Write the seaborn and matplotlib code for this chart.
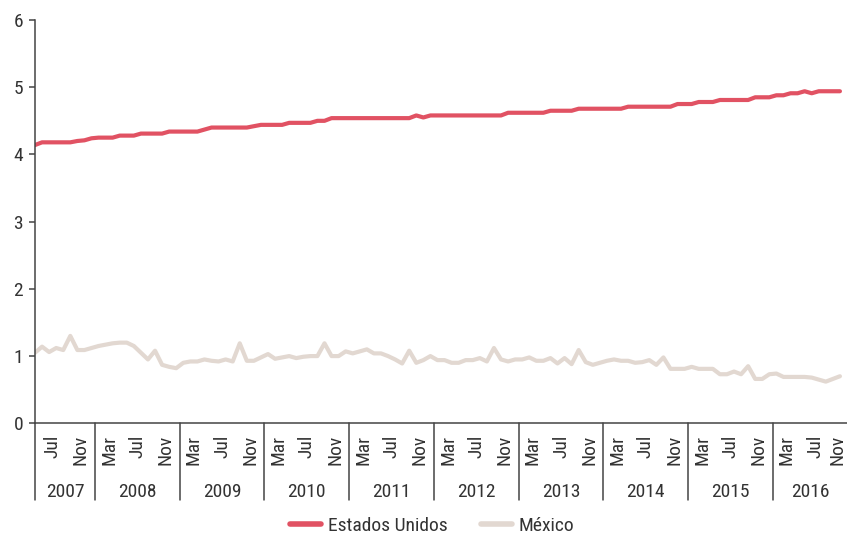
import numpy as np
import pandas as pd
import matplotlib
matplotlib.use("Agg")
import matplotlib.pyplot as plt
import matplotlib.transforms as mtransforms
from matplotlib import font_manager
import seaborn as sns

# Serie mensual, abril 2007 - octubre 2016
anio_inicio, mes_inicio = 2007, 4
anios = list(range(2007, 2017))
etiquetas_mes = ["Mar", "Jul", "Nov"]

estados_unidos = (
    [4.14] + [4.18] * 5 + [4.20, 4.21, 4.24] + [4.25] * 3 + [4.28] * 3
    + [4.31] * 4 + [4.34] * 5 + [4.37] + [4.40] * 6 + [4.42] + [4.44] * 4
    + [4.47] * 4 + [4.50] * 2 + [4.54] * 12 + [4.58, 4.55] + [4.58] * 11
    + [4.62] * 6 + [4.65] * 4 + [4.68] * 7 + [4.71] * 7 + [4.75] * 3
    + [4.78] * 3 + [4.81] * 5 + [4.85] * 3 + [4.88] * 2 + [4.91] * 2
    + [4.94, 4.91] + [4.94] * 4
)

mexico = [
    1.05, 1.14, 1.06, 1.12, 1.09, 1.30, 1.09, 1.09, 1.12, 1.15,
    1.17, 1.19, 1.20, 1.20, 1.15, 1.05, 0.95, 1.08, 0.87, 0.84,
    0.82, 0.90, 0.92, 0.92, 0.95, 0.93, 0.92, 0.95, 0.92, 1.19,
    0.93, 0.93, 0.98, 1.03, 0.96, 0.98, 1.00, 0.97, 0.99, 1.00,
    1.00, 1.19, 1.00, 1.00, 1.07, 1.04, 1.07, 1.10, 1.04, 1.04,
    1.00, 0.95, 0.89, 1.08, 0.90, 0.94, 1.00, 0.94, 0.94, 0.90,
    0.90, 0.94, 0.94, 0.97, 0.92, 1.12, 0.95, 0.92, 0.95, 0.95,
    0.98, 0.93, 0.93, 0.97, 0.89, 0.97, 0.88, 1.09, 0.91, 0.87,
    0.90, 0.93, 0.95, 0.93, 0.93, 0.90, 0.91, 0.94, 0.87, 0.98,
    0.81, 0.81, 0.81, 0.84, 0.81, 0.81, 0.81, 0.73, 0.73, 0.77,
    0.73, 0.85, 0.66, 0.66, 0.73, 0.74, 0.69, 0.69, 0.69, 0.69,
    0.68, 0.65, 0.62, 0.66, 0.70,
]

n = len(mexico)
df = pd.DataFrame({
    "mes": list(range(n)) * 2,
    "valor": estados_unidos + mexico,
    "pais": ["Estados Unidos"] * n + ["México"] * n,
})

sns.set_style("white")

# fuente condensada si existe, si no la normal un poco mas chica
fuentes = font_manager.fontManager.ttflist
nombres = {f.name for f in fuentes}
stretch_kw = {}
if "Liberation Sans Narrow" in nombres:
    familia, tam = "Liberation Sans Narrow", 14.5
elif "Roboto Condensed" in nombres:
    familia, tam = "Roboto Condensed", 14
elif any(f.name == "DejaVu Sans" and f.stretch == "condensed" for f in fuentes):
    familia, tam = "DejaVu Sans", 13
    plt.rcParams["font.stretch"] = "condensed"
else:
    familia, tam = "Liberation Sans", 13
plt.rcParams["font.family"] = [familia, "DejaVu Sans"]

gris = "#333333"
colores = {"Estados Unidos": "#E15263", "México": "#E2D8D1"}

fig = plt.figure(figsize=(8.47, 5.36), dpi=100)
ax = fig.add_axes([35 / 847, 112.7 / 536, 812 / 847, 403.3 / 536])

sns.lineplot(data=df, x="mes", y="valor", hue="pais", palette=colores,
             linewidth=3, ax=ax)

ax.set_xlim(0, 115)
ax.set_ylim(0, 6)
ax.set_xlabel("")
ax.set_ylabel("")
sns.despine(ax=ax)
for s in ["left", "bottom"]:
    ax.spines[s].set_color("#444444")
    ax.spines[s].set_linewidth(1.1)

ax.set_yticks(range(0, 7))
ax.tick_params(axis="y", direction="out", length=4.5, width=1.1, color="#444444",
               labelsize=tam, labelcolor=gris, pad=4, left=True)

# posiciones: indice del mes respecto a abril 2007
def idx(anio, mes):
    return (anio - anio_inicio) * 12 + (mes - mes_inicio)

num_mes = {"Mar": 3, "Jul": 7, "Nov": 11}
pos_lab, txt_lab = [], []
for a in anios:
    for m in etiquetas_mes:
        p = idx(a, num_mes[m]) - 0.5
        if 0 <= p <= 115:
            pos_lab.append(min(p, 113.6))
            txt_lab.append(m)
ax.set_xticks(pos_lab)
ax.set_xticklabels(txt_lab, rotation=90, va="top")
ax.tick_params(axis="x", length=0, labelsize=tam, labelcolor=gris, pad=8.5, bottom=True)

limites = [idx(a, 5) - 0.5 for a in anios] + [idx(a, 9) - 0.5 for a in anios]
limites = [p for p in limites if 0 < p < 115]
ax.set_xticks(limites, minor=True)
ax.tick_params(axis="x", which="minor", direction="out", length=5, width=1.1,
               color="#444444")

trans = mtransforms.blended_transform_factory(ax.transData, ax.transAxes)
separadores = [0] + [idx(a, 1) - 0.5 for a in anios[1:]]
for p in separadores:
    ax.plot([p, p], [0, -0.191], transform=trans, color="#444444", lw=1.1,
            clip_on=False)
bordes = separadores + [115]
for a, x0, x1 in zip(anios, bordes[:-1], bordes[1:]):
    ax.text((x0 + x1) / 2, -0.171, str(a), transform=trans, ha="center",
            va="center", fontsize=tam, color=gris)

handles, labels = ax.get_legend_handles_labels()
ax.get_legend().remove()
for h in handles:
    h.set_linewidth(4)
fig.legend(handles, labels, loc="center", bbox_to_anchor=(432 / 847, 10 / 536),
           ncol=2, frameon=False, fontsize=tam, handlelength=1.6,
           handletextpad=0.35, columnspacing=1.7, labelcolor=gris)

fig.savefig("out.png", dpi=100)
